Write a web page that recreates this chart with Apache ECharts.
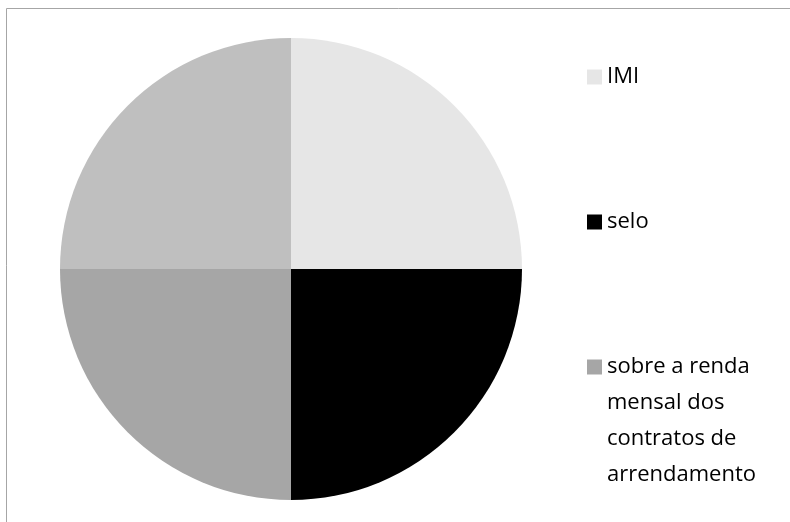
<!DOCTYPE html>
<html>
<head>
<meta charset="utf-8">
<script src="https://cdn.jsdelivr.net/npm/echarts@6/dist/echarts.min.js"></script>
<style>
  html, body { margin: 0; padding: 0; background: #fff; }
  #chart { width: 790px; height: 522px; }
</style>
</head>
<body>
<div id="chart"></div>
<script>
// dados do grafico
var categories = ['IMI', 'selo', 'sobre a renda mensal dos contratos de arrendamento', 'outro'];
var values = [25, 25, 25, 25];
var colors = ['#e6e6e6', '#000000', '#a6a6a6', '#bfbfbf'];
// linhas em branco no inicio para alinhar a 1a linha com o icone
var legendLabels = ['IMI', 'selo', '\n\n\nsobre a renda\nmensal dos\ncontratos de\narrendamento'];

var chart = echarts.init(document.getElementById('chart'));

var pieData = [];
categories.forEach(function (name, i) {
    pieData.push({ name: name, value: values[i], itemStyle: { color: colors[i] } });
});

var fontFam = '"Open Sans", sans-serif';
function oneLegend(name, top) {
    return {
        orient: 'vertical',
        left: 587,
        top: top,
        padding: 0,
        icon: 'rect',
        itemWidth: 15,
        itemHeight: 15,
        selectedMode: false,
        data: [name],
        formatter: function (n) {
            return legendLabels[categories.indexOf(n)];
        },
        textStyle: {
            fontFamily: fontFam,
            fontSize: 22,
            color: '#000',
            lineHeight: 36
        }
    };
}

var option = {
    animation: false,
    backgroundColor: '#fff',
    graphic: [{
        type: 'rect',
        shape: { x: 6.5, y: 8.5, width: 820, height: 560 },
        style: { fill: 'none', stroke: '#a6a6a6', lineWidth: 1 },
        silent: true
    }],
    legend: [
        oneLegend(categories[0], 59),
        oneLegend(categories[1], 204),
        oneLegend(categories[2], 241)
    ],
    series: [{
        type: 'pie',
        center: [291, 269],
        radius: 231,
        startAngle: 90,
        clockwise: true,
        label: { show: false },
        labelLine: { show: false },
        emphasis: { disabled: true },
        itemStyle: { borderWidth: 0 },
        data: pieData
    }]
};
chart.setOption(option);
</script>
</body>
</html>
